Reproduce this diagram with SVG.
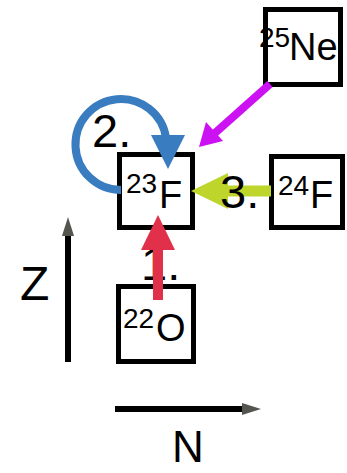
<svg xmlns="http://www.w3.org/2000/svg" width="347" height="473" viewBox="0 0 347 473">
<style>
.box{fill:#fff;stroke:#000;stroke-width:5}
text{font-family:"Liberation Sans",Arial,sans-serif;fill:#000}
.sup{font-size:28px}
.el{font-size:38px}
.lbl{font-size:47px}
</style>
<rect width="347" height="473" fill="#fff"/>
<g id="axes">
  <line x1="68" y1="362" x2="68" y2="232" stroke="#000" stroke-width="6"/>
  <polygon points="62,236 74,236 68,217" fill="#55554f"/>
  <line x1="115" y1="409" x2="246" y2="409" stroke="#000" stroke-width="6"/>
  <polygon points="242,403 242,415 261,409" fill="#55554f"/>
  <text x="20" y="300" style="font-size:48px">Z</text>
  <text x="172" y="462" style="font-size:44px">N</text>
</g>
<g id="node-25Ne">
  <rect class="box" x="265.5" y="9.5" width="75" height="75"/>
  <text x="259" y="47" class="sup">25</text>
  <text x="289" y="60" class="el">Ne</text>
</g>
<g id="node-23F">
  <rect class="box" x="119.5" y="154.5" width="73" height="73"/>
  <text x="126" y="193" class="sup">23</text>
  <text x="159" y="208" class="el">F</text>
</g>
<g id="node-24F">
  <rect class="box" x="271.5" y="156.5" width="71" height="71"/>
  <text x="278" y="195" class="sup">24</text>
  <text x="310" y="208" class="el">F</text>
</g>
<g id="node-22O">
  <rect class="box" x="118.5" y="286.5" width="75" height="75"/>
  <text x="123" y="328" class="sup">22</text>
  <text x="156" y="341" class="el">O</text>
</g>
<g id="labels">
  <text x="92" y="147" class="lbl">2.</text>
  <text x="141" y="280" class="lbl">1.</text>
</g>
<g id="connectors">
  <path d="M121,190 A45.5,45.5 0 1 1 166,138" fill="none" stroke="#3a7cc0" stroke-width="8"/>
  <polygon points="151,135 185,135 168,169" fill="#3a7cc0"/>
  <line x1="270" y1="84" x2="215" y2="133" stroke="#cc11f2" stroke-width="8"/>
  <polygon points="199,147 206,122 223,141" fill="#cc11f2"/>
  <line x1="271" y1="191" x2="225" y2="191" stroke="#bed62c" stroke-width="11"/>
  <polygon points="191,191 228,173 228,209" fill="#bed62c"/>
  <line x1="158" y1="300" x2="158" y2="245" stroke="#e0304a" stroke-width="10"/>
  <polygon points="158,215 141,250 175,250" fill="#e0304a"/>
</g>
<text x="220" y="208" class="lbl">3.</text>
</svg>
